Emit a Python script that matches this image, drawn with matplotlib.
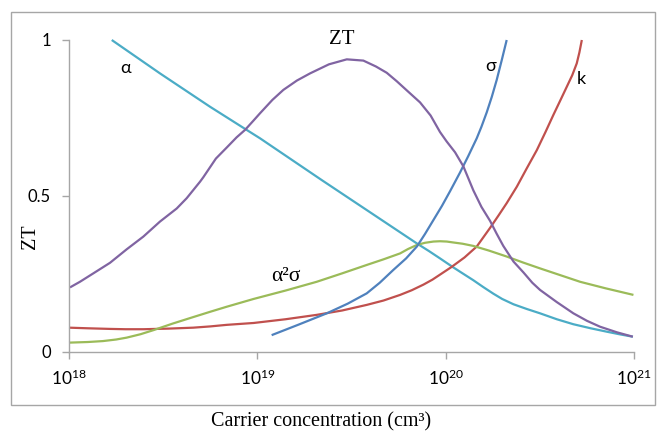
import numpy as np
import matplotlib
matplotlib.use("agg")
import matplotlib.pyplot as plt
from matplotlib.patches import Rectangle

# log10 of carrier concentration (cm^-3) and value on the ZT scale
zt_logn = [18.005, 18.058, 18.129, 18.218, 18.306, 18.395, 18.483, 18.572, 18.625,
           18.696, 18.713, 18.780, 18.837, 18.890, 18.935, 18.980, 19.014, 19.080,
           19.138, 19.210, 19.280, 19.380, 19.475, 19.563, 19.630, 19.687, 19.740,
           19.800, 19.864, 19.920, 19.970, 20.005, 20.050, 20.094, 20.147, 20.190,
           20.236, 20.270, 20.306, 20.360, 20.413, 20.460, 20.501, 20.590, 20.678,
           20.750, 20.820, 20.910, 20.994]
zt_val = [0.207, 0.225, 0.252, 0.286, 0.329, 0.370, 0.418, 0.460, 0.493,
          0.546, 0.560, 0.620, 0.655, 0.688, 0.712, 0.742, 0.765, 0.808,
          0.840, 0.870, 0.893, 0.922, 0.938, 0.934, 0.915, 0.895, 0.868,
          0.835, 0.800, 0.758, 0.705, 0.675, 0.640, 0.595, 0.518, 0.465,
          0.420, 0.380, 0.340, 0.290, 0.255, 0.222, 0.199, 0.160, 0.124,
          0.100, 0.081, 0.063, 0.049]

alpha_logn = [18.227, 18.483, 18.749, 18.935, 19.014, 19.342, 19.847, 19.910,
              19.970, 20.041, 20.090, 20.147, 20.200, 20.253, 20.300, 20.360,
              20.430, 20.501, 20.590, 20.678, 20.770, 20.856, 20.930, 20.994]
alpha_val = [1.000, 0.893, 0.786, 0.715, 0.685, 0.551, 0.348, 0.324,
             0.300, 0.271, 0.252, 0.230, 0.208, 0.187, 0.170, 0.153,
             0.138, 0.124, 0.105, 0.089, 0.076, 0.065, 0.056, 0.049]

sigma_logn = [19.076, 19.220, 19.369, 19.480, 19.581, 19.650, 19.722, 19.790,
              19.847, 19.890, 19.935, 19.980, 20.023, 20.076, 20.120, 20.165,
              20.190, 20.218, 20.245, 20.271, 20.298, 20.324]
sigma_val = [0.054, 0.088, 0.124, 0.155, 0.188, 0.222, 0.263, 0.300,
             0.338, 0.378, 0.423, 0.468, 0.515, 0.575, 0.628, 0.685,
             0.722, 0.768, 0.818, 0.872, 0.936, 1.000]

k_logn = [18.000, 18.100, 18.218, 18.300, 18.395, 18.530, 18.660, 18.750, 18.837,
          18.980, 19.150, 19.315, 19.450, 19.581, 19.670, 19.758, 19.820, 19.882,
          19.930, 19.970, 20.030, 20.100, 20.165, 20.236, 20.280, 20.324, 20.378,
          20.430, 20.484, 20.530, 20.572, 20.610, 20.643, 20.672, 20.696, 20.710,
          20.723]
k_val = [0.078, 0.076, 0.074, 0.073, 0.073, 0.075, 0.078, 0.082, 0.087,
         0.093, 0.105, 0.119, 0.133, 0.151, 0.165, 0.183, 0.198, 0.216,
         0.232, 0.248, 0.272, 0.303, 0.338, 0.398, 0.437, 0.477, 0.530,
         0.588, 0.647, 0.705, 0.760, 0.808, 0.850, 0.887, 0.925, 0.960,
         1.000]

pf_logn = [18.000, 18.100, 18.180, 18.250, 18.306, 18.380, 18.448, 18.550, 18.660,
           18.750, 18.837, 18.980, 19.150, 19.315, 19.450, 19.581, 19.670, 19.758,
           19.800, 19.847, 19.890, 19.935, 19.970, 20.006, 20.041, 20.090, 20.147,
           20.230, 20.324, 20.410, 20.501, 20.610, 20.714, 20.850, 20.997]
pf_val = [0.030, 0.032, 0.035, 0.040, 0.046, 0.057, 0.070, 0.091, 0.112,
          0.129, 0.145, 0.170, 0.197, 0.225, 0.252, 0.279, 0.297, 0.316,
          0.330, 0.343, 0.350, 0.354, 0.355, 0.354, 0.351, 0.347, 0.340,
          0.325, 0.306, 0.287, 0.268, 0.246, 0.225, 0.204, 0.183]

xticks = [1e18, 1e19, 1e20, 1e21]
xtick_labels = [r"$\mathregular{10^{18}}$", r"$\mathregular{10^{19}}$",
                r"$\mathregular{10^{20}}$", r"$\mathregular{10^{21}}$"]
yticks = [0, 0.5, 1]
ytick_labels = ["0", "0.5", "1"]

SANS = ["Lato", "DejaVu Sans"]
SERIF = ["Liberation Serif", "DejaVu Serif"]
plt.rcParams["font.family"] = SANS

fig = plt.figure(figsize=(6.6, 4.34), dpi=100)
ax = fig.add_axes([69 / 660, 82 / 434, 565 / 660, 312 / 434])

# outer frame around the chart area
fig.patches.append(Rectangle((11 / 660, 29 / 434), 644 / 660, 393 / 434,
                             transform=fig.transFigure, fill=False,
                             edgecolor="#a6a6a6", linewidth=1.0))

lw = 1.6
series = [
    (alpha_logn, alpha_val, "#4BACC6"),
    (k_logn, k_val, "#C0504D"),
    (pf_logn, pf_val, "#9BBB59"),
    (sigma_logn, sigma_val, "#4F81BD"),
    (zt_logn, zt_val, "#8064A2"),
]
for lg, val, col in series:
    ax.plot(10 ** np.array(lg), val, color=col, lw=lw, clip_on=False,
            solid_capstyle="butt", solid_joinstyle="round")

ax.set_xscale("log")
ax.set_xlim(1e18, 1e21)
ax.set_ylim(0, 1)
ax.set_xticks(xticks)
ax.set_xticklabels(xtick_labels, fontsize=12.5)
ax.minorticks_off()
ax.set_yticks(yticks)
ax.set_yticklabels(ytick_labels, fontsize=12)

for s in ["top", "right"]:
    ax.spines[s].set_visible(False)
for s in ["left", "bottom"]:
    ax.spines[s].set_color("#a6a6a6")
    ax.spines[s].set_linewidth(1.0)
ax.tick_params(axis="both", colors="#a6a6a6", length=5, width=1.0,
               direction="out", labelcolor="black")
ax.tick_params(axis="y", pad=8)
ax.tick_params(axis="x", pad=7)

# curve names
ax.text(10 ** 18.30, 0.91, "α", fontsize=13, ha="center", va="center",
        family=SANS)
ax.text(10 ** 20.24, 0.917, "σ", fontsize=13, ha="center", va="center",
        family=SANS)
ax.text(10 ** 20.72, 0.874, "k", fontsize=13, ha="center", va="center",
        family=SANS)
ax.text(10 ** 19.45, 1.0, "ZT", fontsize=15, ha="center", va="center",
        family=SERIF)
ax.text(10 ** 19.15, 0.241, "α²σ", fontsize=15.5, ha="center", va="center",
        family=SERIF)

fig.text(30 / 660, 1 - 237 / 434, "ZT", rotation=90, fontsize=14.5,
         ha="center", va="center", family=SERIF)
fig.text(321 / 660, 1 - 422 / 434, "Carrier concentration (cm³)", fontsize=14.5,
         ha="center", va="center", family=SERIF)

fig.savefig("out.png", dpi=100)
